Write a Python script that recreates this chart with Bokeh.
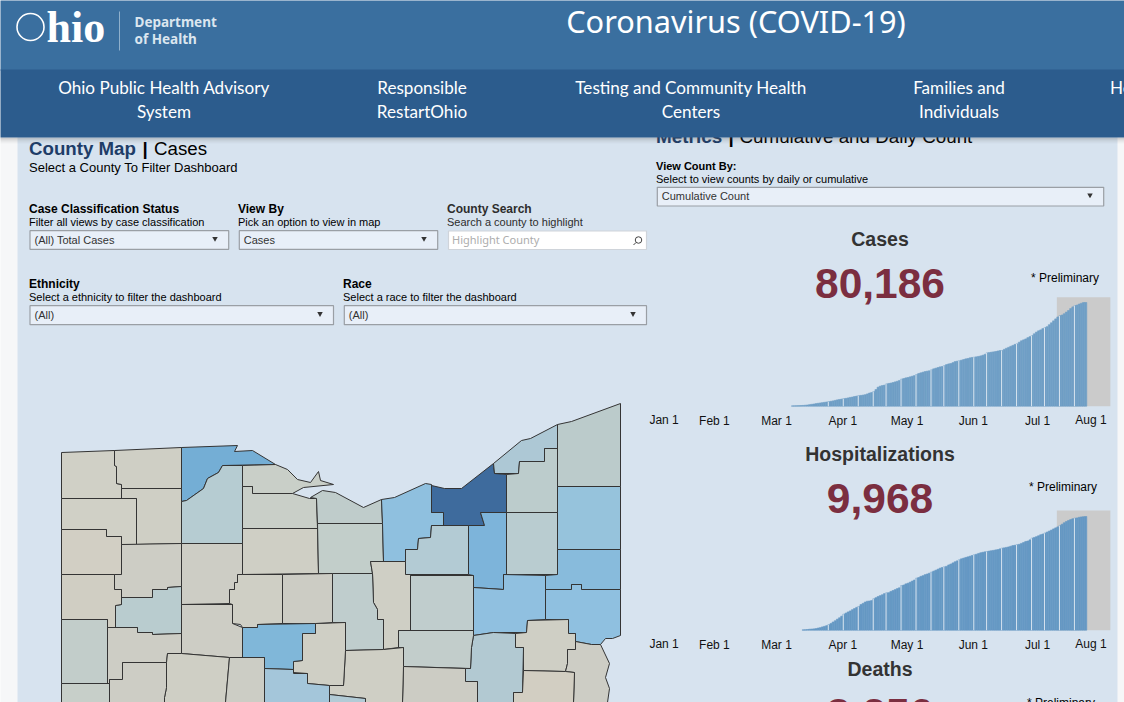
from datetime import datetime, timedelta
from bokeh.core.properties import value
from bokeh.embed import file_html
from bokeh.models import ColumnDataSource, DatetimeAxis, FixedTicker, Range1d
from bokeh.plotting import figure
from bokeh.resources import INLINE

# ---------------------------------------------------------------- data
cases_start = "2020-03-08"
cases_values = [
    260, 300, 350, 420, 500, 600, 750, 950, 1200, 1450, 1700, 2000, 2250, 2500, 2750, 3000, 3250, 3500, 3800, 4100,
    4500, 4900, 5200, 5500, 5800, 6050, 6400, 6800, 7100, 7500, 7800, 8100, 8350, 8600, 8900, 9500, 10200, 10600, 11300, 12900,
    14700, 15500, 16000, 16300, 17200, 17600, 17900, 18300, 18800, 19300, 19900, 20900, 21400, 21900, 22200, 22700, 23200, 23700, 24500, 25300,
    25800, 26300, 26800, 27100, 27400, 28100, 28900, 29400, 29900, 30400, 30700, 31400, 32200, 32700, 33000, 33700, 34500, 34800, 35100, 35600,
    36100, 36600, 36900, 37400, 37700, 37900, 38200, 38500, 38900, 39400, 40100, 41250, 41500, 41800, 42000, 42300, 42700, 43000, 43050, 44000,
    44800, 45500, 46300, 47000, 47800, 48200, 49500, 50600, 51300, 52000, 53000, 53800, 54650, 56000, 57300, 58300, 59000, 60000, 60800, 61500,
    63000, 64500, 66000, 67500, 69000, 70000, 70500, 71500, 72800, 74000, 75500, 76800, 77800, 78200, 79000, 79600, 80186, 80186,
]
hosp_start = "2020-03-13"
hosp_values = [
    30, 40, 60, 85, 100, 115, 140, 190, 225, 290, 340, 400, 480, 590, 720, 830, 970, 1090, 1230, 1400,
    1500, 1600, 1690, 1800, 1900, 2000, 2080, 2250, 2350, 2470, 2540, 2560, 2600, 2750, 2850, 2950, 3030, 3110, 3210, 3270,
    3290, 3400, 3480, 3560, 3650, 3720, 3900, 3960, 4060, 4120, 4210, 4310, 4400, 4560, 4620, 4720, 4780, 4870, 4930, 5000,
    5090, 5180, 5260, 5350, 5440, 5500, 5550, 5600, 5720, 5800, 5900, 6000, 6080, 6170, 6260, 6320, 6380, 6430, 6490, 6550,
    6610, 6660, 6730, 6790, 6830, 6870, 6900, 6940, 6970, 7000, 7040, 7070, 7130, 7190, 7220, 7260, 7300, 7360, 7420, 7450,
    7490, 7530, 7610, 7690, 7780, 7820, 7920, 8070, 8130, 8200, 8280, 8370, 8430, 8510, 8600, 8690, 8780, 8880, 8970, 9060,
    9180, 9290, 9420, 9530, 9620, 9700, 9770, 9820, 9840, 9900, 9930, 9950, 9968,
]
cases_total = "80,186"
hosp_total = "9,968"
deaths_total = "3,256"
cases_scale_top = 84300
hosp_scale_top = 10494
preliminary_start = "2020-07-10"
preliminary_end = "2020-08-04"
week_gaps = [
    "2020-03-25", "2020-04-01", "2020-04-08", "2020-04-15", "2020-04-21", "2020-04-28", "2020-05-05", "2020-05-12", "2020-05-18",
    "2020-05-25", "2020-06-01", "2020-06-07", "2020-06-14", "2020-06-21", "2020-06-28", "2020-07-04", "2020-07-11", "2020-07-18",
]
tick_dates = ["2020-02-01", "2020-03-01", "2020-04-01", "2020-05-01", "2020-06-01", "2020-07-01"]
tick_labels = ["Feb 1", "Mar 1", "Apr 1", "May 1", "Jun 1", "Jul 1"]
edge_dates = ["2020-01-01", "2020-08-01"]
edge_labels = ["Jan 1", "Aug 1"]

county_names = [
    "Williams", "Fulton", "Lucas", "Henry", "Defiance", "Paulding", "Wood", "Ottawa", "Sandusky", "Seneca",
    "Erie", "Huron", "Lorain", "Cuyahoga", "Lake", "Geauga", "Ashtabula", "Trumbull", "Portage", "Summit",
    "Medina", "Ashland", "Richland", "Wayne", "Stark", "Mahoning", "Columbiana", "Carroll", "Tuscarawas", "Holmes",
    "Coshocton", "Jefferson", "Harrison", "Knox", "Morrow", "Crawford", "Wyandot", "Hancock", "Putnam", "Allen",
    "Van Wert", "Hardin", "Marion", "Mercer", "Auglaize", "Logan", "Union", "Delaware", "Shelby", "Darke", "Licking",
]
county_shades = [
    "#d0d0c6", "#cfcfc5", "#74aed5", "#cfcfc5", "#d0d0c6", "#d2cfc4", "#b6ccd2", "#c9cfc8", "#c9cfc8", "#cfcfc5",
    "#bfcccb", "#c2ceca", "#8fc0df", "#3e6b9d", "#adc8d5", "#bccccc", "#bbcbcb", "#96c3dc", "#b9ccd0", "#7db4da",
    "#b3cbd4", "#cfcfc5", "#bfcdcd", "#c0cdcd", "#90c0e0", "#88bbdc", "#8fc0e0", "#cfcfc5", "#b2c9d2", "#c2cdcb",
    "#ccccc4", "#cdcdc5", "#d2cec2", "#cfcfc5", "#cfcfc5", "#ccccc4", "#cfcfc5", "#cdcdc5", "#cdcdc5", "#b9cccf",
    "#d0cec3", "#cdcdc5", "#80b7d9", "#c2cdca", "#cdcdc5", "#cfcfc5", "#cccdc5", "#a4c6da", "#cdcdc5", "#c7cfc9", "#b2cbd6",
]
county_outlines = [
    [(61,452),(114,450),(114,465),(116,466),(116,483),(121,484),(121,498),(61,498)],
    [(114,450),(181,447),(181,488),(121,488),(121,484),(116,483),(116,466),(114,465)],
    [(181,447),(237,445),(234,451),(252,450),(275,464),(222,465),(218,472),(207,478),(203,488),(186,500),(181,501)],
    [(121,488),(181,488),(181,543),(136,544),(136,498),(121,498)],
    [(61,498),(136,498),(136,544),(121,544),(121,536),(106,536),(106,529),(61,529)],
    [(61,529),(106,529),(106,536),(121,536),(121,574),(61,574)],
    [(181,501),(186,500),(203,488),(207,478),(218,472),(222,465),(242,465),(242,543),(181,543)],
    [(242,465),(275,464),(287,469),(297,479),(310,482),(318,471),(320,480),(333,484),(303,487),(292,493),(252,493),(252,486),(242,486)],
    [(242,486),(252,486),(252,493),(292,493),(309,498),(316,498),(317,528),(242,528)],
    [(242,528),(317,528),(318,573),(242,574)],
    [(316,498),(310,497),(322,490),(335,492),(363,507),(381,499),(382,523),(317,523)],
    [(317,523),(382,523),(383,561),(370,561),(372,573),(318,573)],
    [(381,499),(394,497),(425,483),(431,484),(431,512),(443,512),(443,525),(431,525),(430,537),(418,538),(417,549),(405,549),(405,561),(383,561),(382,523)],
    [(431,485),(444,488),(461,488),(493,463),(494,473),(506,474),(506,512),(480,512),(484,525),(443,525),(443,512),(431,512)],
    [(493,463),(521,440),(530,438),(557,424),(557,448),(544,448),(544,461),(519,461),(518,473),(494,473)],
    [(506,474),(518,473),(519,461),(544,461),(544,448),(557,448),(557,512),(506,512)],
    [(557,424),(571,421),(620,403),(620,486),(557,486)],
    [(557,486),(620,486),(620,549),(557,549)],
    [(506,512),(557,512),(557,574),(506,574)],
    [(480,512),(506,512),(506,574),(503,574),(503,589),(473,587),(473,575),(468,574),(468,525),(484,525)],
    [(431,525),(468,525),(468,574),(405,574),(405,549),(417,549),(418,538),(430,537)],
    [(370,561),(405,561),(405,574),(410,574),(410,630),(398,630),(398,647),(383,649),(383,619),(377,619),(377,609),(373,602),(372,573)],
    [(332,573),(372,573),(373,602),(377,609),(377,619),(383,619),(383,649),(345,650),(345,622),(332,622)],
    [(410,575),(473,575),(473,630),(410,630)],
    [(473,587),(503,589),(503,574),(545,575),(545,619),(527,620),(526,632),(493,632),(473,635)],
    [(545,575),(557,574),(557,549),(620,549),(620,589),(581,589),(581,584),(571,584),(571,589),(545,589)],
    [(545,589),(571,589),(571,584),(581,584),(581,589),(620,589),(620,635),(612,638),(605,638),(600,644),(591,644),(575,641),(575,633),(568,633),(568,619),(545,619)],
    [(527,620),(568,619),(568,633),(575,633),(575,649),(567,649),(567,663),(565,671),(523,670),(523,647),(515,647),(515,633),(526,632)],
    [(473,635),(493,632),(515,633),(515,647),(523,647),(522,692),(513,692),(513,702),(477,702),(477,681),(465,681),(465,668),(470,668),(471,647)],
    [(398,630),(473,630),(473,635),(471,647),(470,668),(403,666),(403,647),(398,647)],
    [(403,666),(465,668),(465,681),(477,681),(477,702),(402,702)],
    [(575,641),(591,644),(600,644),(609,663),(605,677),(609,688),(607,702),(573,702),(574,672),(565,671),(567,663),(567,649),(575,649)],
    [(523,670),(565,671),(574,672),(573,702),(513,702),(513,692),(522,692)],
    [(345,650),(383,649),(403,647),(403,666),(402,702),(365,702),(365,698),(329,694),(329,685),(343,685)],
    [(315,623),(345,622),(345,650),(343,685),(329,685),(307,683),(307,673),(293,672),(293,661),(302,660),(302,633),(315,633)],
    [(282,574),(332,573),(332,622),(315,623),(282,623)],
    [(237,574),(282,574),(282,623),(257,624),(257,627),(242,627),(240,624),(232,623),(232,604),(229,603),(229,589),(234,589),(234,582),(237,582)],
    [(181,543),(242,543),(242,574),(237,574),(237,582),(234,582),(234,589),(229,589),(229,603),(181,604)],
    [(121,544),(181,543),(181,586),(167,587),(167,589),(152,589),(152,597),(121,597),(121,589),(114,589),(114,574),(121,574)],
    [(121,597),(152,597),(152,589),(167,589),(167,587),(181,586),(181,633),(152,634),(152,632),(137,632),(137,627),(115,627),(115,605),(121,604)],
    [(61,574),(114,574),(114,589),(121,589),(121,604),(115,605),(115,627),(107,627),(107,619),(61,619)],
    [(181,604),(232,604),(232,623),(242,627),(242,657),(229,657),(181,653)],
    [(242,627),(257,627),(257,624),(315,623),(315,633),(302,633),(302,660),(293,661),(293,669),(264,668),(264,657),(242,657)],
    [(61,619),(107,619),(107,683),(61,683)],
    [(107,627),(137,627),(137,632),(152,632),(152,634),(181,633),(181,653),(167,653),(166,662),(122,662),(122,679),(109,679),(109,683),(107,683)],
    [(167,653),(181,653),(229,657),(225,702),(164,702),(164,697),(166,687),(166,662)],
    [(229,657),(264,657),(264,702),(225,702)],
    [(264,668),(293,669),(293,673),(307,673),(307,683),(329,685),(329,702),(264,702)],
    [(109,679),(122,679),(122,662),(166,662),(166,687),(164,697),(164,702),(109,702)],
    [(61,683),(109,683),(109,702),(61,702)],
    [(329,694),(365,698),(365,702),(329,702)],
]

# ---------------------------------------------------------------- canvas
W, H = 1124, 702
DAY_MS = 86400000.0
SANS = "Liberation Sans"
NAV = "Noto Sans"
NAV2 = "Lato"


def ms(text):
    return (datetime.strptime(text, "%Y-%m-%d") - datetime(1970, 1, 1)).total_seconds() * 1000


PX_PER_DAY = 2.14
MAR1 = ms("2020-03-01")
MAR1_PX = 776.0
date_range = Range1d(MAR1 - MAR1_PX / PX_PER_DAY * DAY_MS, MAR1 + (W - MAR1_PX) / PX_PER_DAY * DAY_MS)


def value_range(base_px, px_per_unit):
    return Range1d(-(H - base_px) / px_per_unit, base_px / px_per_unit)


p = figure(
    width=W, height=H, x_range=Range1d(0, W), y_range=Range1d(H, 0), x_axis_type=None, y_axis_type=None,
    toolbar_location=None, output_backend="svg", min_border=0, outline_line_color=None,
    background_fill_color="#f6f7f8", border_fill_color="#f6f7f8",
    styles={"position": "absolute", "left": "0px", "top": "0px"},
)
p.extra_x_ranges = {"date": date_range}
p.extra_y_ranges = {
    "cases": value_range(405.7, 103.7 / 80186),
    "hosp": value_range(629.7, 113.7 / 9968),
}


def label(x, y, text, size, color="#000000", font=SANS, style="normal", align="left", **kw):
    p.text(x=[x - 0.5], y=[y - 1], text=[text], text_font=value(font), text_font_size=f"{size}px", text_color=color,
           text_font_style=style, text_align=align, text_baseline="middle", **kw)


def box(x0, y0, x1, y1, fill, line=None, width=1.0, alpha=1.0):
    p.quad(left=[x0], right=[x1], top=[y0], bottom=[y1], fill_color=fill, fill_alpha=alpha,
           line_color=line, line_width=width)


def dropdown(x0, y0, x1, y1, text, arrow_x):
    box(x0 - 0.5, y0 - 0.5, x1 - 0.5, y1 - 0.5, "#e8eff8", "#9a9fa5", 1.2)
    label(x0 + 4.5, (y0 + y1) / 2 + 0.3, text, 11, "#333333")
    p.scatter(x=[arrow_x - 0.5], y=[(y0 + y1) / 2 - 2], marker="inverted_triangle", size=5.5, color="#333333", line_width=0)


# panel
box(17, 120, 1117, H + 2, "#d7e3ef")

# ---------------------------------------------------------------- map
map_source = ColumnDataSource(dict(
    name=county_names,
    xs=[[pt[0] for pt in o] for o in county_outlines],
    ys=[[pt[1] for pt in o] for o in county_outlines],
    shade=county_shades,
))
p.patches("xs", "ys", source=map_source, fill_color="shade", line_color="#343434", line_width=1.0)

# ---------------------------------------------------------------- left controls
label(29, 149, "County Map", 18.7, "#1e3d68", style="bold")
label(142.5, 149, "|", 18.7, "#000000", style="bold")
label(154, 149, "Cases", 18.7)
label(29, 167.5, "Select a County To Filter Dashboard", 13)

label(29, 209, "Case Classification Status", 12, style="bold")
label(29, 222.5, "Filter all views by case classification", 11)
dropdown(30, 230.7, 228.7, 249.3, "(All) Total Cases", 215)

label(238, 209, "View By", 12, style="bold")
label(238, 222.5, "Pick an option to view in map", 11)
dropdown(239.3, 230.7, 437.7, 249.3, "Cases", 424)

label(447, 209, "County Search", 12, "#2d2d2d", style="bold")
label(447, 222.5, "Search a county to highlight", 11, "#2d2d2d")
box(448, 230.5, 646, 249, "#ffffff", "#cfd4da", 1.2)
label(452, 240.3, "Highlight County", 11, "#adadad", font=NAV)
p.scatter(x=[638], y=[239.5], marker="circle", size=6.5, fill_color=None, line_color="#444444", line_width=1)
p.segment(x0=[635.5], y0=[242], x1=[633], y1=[244.5], line_color="#444444", line_width=1)

label(29, 284, "Ethnicity", 12, style="bold")
label(29, 297.5, "Select a ethnicity to filter the dashboard", 11)
dropdown(30, 305.7, 333.5, 324.7, "(All)", 320)

label(343, 284, "Race", 12, style="bold")
label(343, 297.5, "Select a race to filter the dashboard", 11)
dropdown(344.3, 305.7, 646.5, 324.7, "(All)", 633)

# ---------------------------------------------------------------- right column
label(656, 136.5, "Metrics", 18.9, "#1e3d68", style="bold")
label(728.5, 136.5, "|", 18.9, "#000000", style="bold")
label(739.5, 136.5, "Cumulative and Daily Count", 18.8)
label(656, 166, "View Count By:", 11, style="bold")
label(656, 179, "Select to view counts by daily or cumulative", 11)
dropdown(657.3, 187.3, 1103.7, 206, "Cumulative Count", 1090)


def metric(title, total, y_title, y_total, y_prelim, x_prelim):
    label(880, y_title, title, 19.5, "#333333", style="bold", align="center")
    label(880, y_total, total, 42.5, "#7b2e40", style="bold", align="center")
    label(x_prelim, y_prelim, "* Preliminary", 12)


metric("Cases", cases_total, 239, 284, 278, 1031)
metric("Hospitalizations", hosp_total, 454, 499, 487.5, 1029)
metric("Deaths", deaths_total, 669, 714, 703, 1027)


def series(values, start, range_name, scale_top, fill, tick_y):
    first = ms(start)
    p.quad(left=[ms(preliminary_start)], right=[ms(preliminary_end)], bottom=[0], top=[scale_top],
           x_range_name="date", y_range_name=range_name, fill_color="#cbcbcb", line_color=None)
    centers = [first + (i + 0.5) * DAY_MS for i in range(len(values))]
    p.vbar(x=centers, top=values, bottom=0, width=1.0 * DAY_MS, x_range_name="date", y_range_name=range_name,
           fill_color=fill, line_color=fill, line_width=0.6)
    gaps = [g for g in week_gaps if ms(g) >= first]
    gap_x = [ms(g) + 0.2 * DAY_MS for g in gaps]
    gap_top = [values[int(round((ms(g) - first) / DAY_MS))] for g in gaps]
    p.vbar(x=gap_x, top=gap_top, bottom=0, width=0.42 * DAY_MS, x_range_name="date", y_range_name=range_name,
           fill_color="#e4ecf4", line_color=None)
    axis = DatetimeAxis(
        x_range_name="date", fixed_location=tick_y,
        ticker=FixedTicker(ticks=[ms(d) for d in tick_dates]),
        major_label_overrides={ms(d): t for d, t in zip(tick_dates, tick_labels)},
        axis_line_color=None, major_tick_line_color=None, minor_tick_line_color=None,
        major_label_standoff=0, major_label_text_font=SANS, major_label_text_font_size="12px",
        major_label_text_color="#111111",
    )
    p.add_layout(axis, "below")
    p.text(x=[ms(edge_dates[0]), ms(edge_dates[1])], y=[tick_y + 12.5, tick_y + 12.5], text=edge_labels, x_range_name="date",
           x_offset=[16, -13], text_font=value(SANS), text_font_size="12px", text_color="#111111",
           text_align="center", text_baseline="middle")


series(cases_values, cases_start, "cases", cases_scale_top, "#709fc6", 407)
series(hosp_values, hosp_start, "hosp", hosp_scale_top, "#6699c4", 631)

# ---------------------------------------------------------------- page header
for i, a in enumerate([0.30, 0.22, 0.15, 0.10, 0.06, 0.03]):
    box(-2, 137 + i, W + 2, 138 + i, "#555555", alpha=a)
box(-2, -2, W + 2, 70, "#3a6f9f")
box(-2, 69, W + 2, 137, "#2c5c8d")

p.scatter(x=[30], y=[26.5], marker="circle", size=27, fill_color=None, line_color="#ffffff", line_width=1.6)
label(46.5, 27.5, "hio", 44, "#ffffff", font="Liberation Serif", style="bold")
p.segment(x0=[119], y0=[11], x1=[119], y1=[50], line_color="#8fb0cc", line_width=1)
label(134.5, 22, "Department", 13.5, "#dbe6ef", font=NAV, style="bold")
label(134.5, 39, "of Health", 13.5, "#dbe6ef", font=NAV, style="bold")
label(736, 21, "Coronavirus (COVID-19)", 30.7, "#ffffff", font=NAV, align="center")

nav_size = 17.1
label(164, 88, "Ohio Public Health Advisory", nav_size, "#ffffff", font=NAV2, align="center")
label(164, 112, "System", nav_size, "#ffffff", font=NAV2, align="center")
label(422, 88, "Responsible", nav_size, "#ffffff", font=NAV2, align="center")
label(422, 112, "RestartOhio", nav_size, "#ffffff", font=NAV2, align="center")
label(691, 88, "Testing and Community Health", nav_size, "#ffffff", font=NAV2, align="center")
label(691, 112, "Centers", nav_size, "#ffffff", font=NAV2, align="center")
label(959, 88, "Families and", nav_size, "#ffffff", font=NAV2, align="center")
label(959, 112, "Individuals", nav_size, "#ffffff", font=NAV2, align="center")
label(1110, 88, "He", nav_size, "#ffffff", font=NAV2)

open("out.html", "w").write(file_html(p, INLINE))
